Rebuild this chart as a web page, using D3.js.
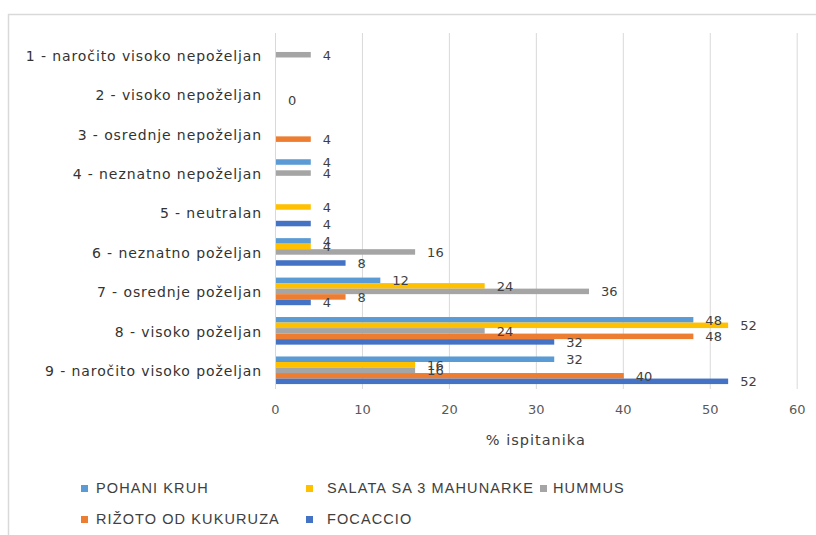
<!DOCTYPE html>
<html>
<head>
<meta charset="utf-8">
<script src="https://cdn.jsdelivr.net/npm/d3@7"></script>
<style>
  html, body { margin: 0; padding: 0; background: #fff; }
  svg { display: block; }
</style>
</head>
<body>
<svg id="chart" width="816" height="535"></svg>
<script>
// Rating scale (top to bottom)
const categories = [
  "1 - naročito visoko nepoželjan",
  "2 - visoko nepoželjan",
  "3 - osrednje nepoželjan",
  "4 - neznatno nepoželjan",
  "5 - neutralan",
  "6 -  neznatno poželjan",
  "7 - osrednje poželjan",
  "8 - visoko poželjan",
  "9 - naročito visoko poželjan"
];

const seriesNames = ["POHANI KRUH", "SALATA SA 3 MAHUNARKE", "HUMMUS", "RIŽOTO OD KUKURUZA", "FOCACCIO"];
const seriesColors = ["#5B9BD5", "#FFC000", "#A5A5A5", "#ED7D31", "#4472C4"];

// % of respondents per category; null = no answer recorded (no bar, no label)
const pohaniKruh   = [null, null, null, 4, null, 4, 12, 48, 32];
const salata       = [null, null, null, null, 4, 4, 24, 52, 16];
const hummus       = [4, null, null, 4, null, 16, 36, 24, 16];
const rizoto       = [null, 0, 4, null, null, null, 8, 48, 40];
const focaccio     = [null, null, null, null, 4, 8, 4, 32, 52];

const xTicks = [0, 10, 20, 30, 40, 50, 60];
const axisTitle = "% ispitanika";

const seriesValues = [pohaniKruh, salata, hummus, rizoto, focaccio];

const svg = d3.select("#chart");

// outer frame (top and left edges)
svg.append("line").attr("x1", 8).attr("x2", 816).attr("y1", 14.5).attr("y2", 14.5)
  .attr("stroke", "#d9d9d9").attr("stroke-width", 1.5);
svg.append("line").attr("x1", 8.5).attr("x2", 8.5).attr("y1", 14).attr("y2", 535)
  .attr("stroke", "#d9d9d9").attr("stroke-width", 1.5);

const x = d3.scaleLinear().domain([0, 60]).range([275, 796.7]);
const y = d3.scaleBand().domain(categories).range([35, 390]).paddingInner(0.3).paddingOuter(0.15);
const ySub = d3.scaleBand().domain(seriesNames).range([0, y.bandwidth()]);

// vertical gridlines
svg.append("g").selectAll("line").data(xTicks).join("line")
  .attr("x1", d => x(d) + 0.5).attr("x2", d => x(d) + 0.5)
  .attr("y1", 33).attr("y2", 389)
  .attr("stroke", "#d9d9d9").attr("stroke-width", 1);

// x axis tick labels
const xAxis = d3.axisBottom(x).tickValues(xTicks).tickSize(0).tickPadding(0);
const gx = svg.append("g").attr("transform", "translate(0,404)").call(xAxis);
gx.select(".domain").remove();
gx.selectAll("text")
  .attr("font-family", "DejaVu Sans, sans-serif").attr("font-size", 13)
  .attr("fill", "#595959").attr("dy", "0.75em");

svg.append("text").attr("x", (x(0) + x(60)) / 2).attr("y", 445)
  .attr("text-anchor", "middle")
  .attr("font-family", "DejaVu Sans, sans-serif").attr("font-size", 14.5)
  .attr("letter-spacing", 1)
  .attr("fill", "#404040").text(axisTitle);

// category labels
const yAxis = d3.axisLeft(y).tickSize(0).tickPadding(13);
const gy = svg.append("g").attr("transform", `translate(${x(0)},0)`).call(yAxis);
gy.select(".domain").remove();
gy.selectAll("text")
  .attr("font-family", "DejaVu Sans, sans-serif").attr("font-size", 14)
  .attr("letter-spacing", 0.9)
  .attr("fill", "#333").attr("dy", "0.42em");

// bars and value labels
const rows = [];
categories.forEach((c, i) => {
  seriesNames.forEach((s, j) => {
    const v = seriesValues[j][i];
    if (v !== null) rows.push({ c, s, v, color: seriesColors[j] });
  });
});

svg.append("g").selectAll("rect").data(rows).join("rect")
  .attr("x", x(0) + 1)
  .attr("y", d => y(d.c) + ySub(d.s))
  .attr("width", d => Math.max(0, x(d.v) - x(0)))
  .attr("height", ySub.bandwidth())
  .attr("fill", d => d.color);

svg.append("g").selectAll("text").data(rows).join("text")
  .attr("x", d => x(d.v) + 13)
  .attr("y", d => y(d.c) + ySub(d.s) + ySub.bandwidth() / 2 + 1.5)
  .attr("dominant-baseline", "middle")
  .attr("font-family", "DejaVu Sans, sans-serif").attr("font-size", 13)
  .attr("fill", "#404040")
  .text(d => d.v);

// legend: [marker x, text x, row y]
const legendPos = [[81, 96, 489], [306, 327, 489], [540, 553, 489], [81, 96, 520], [306, 327, 520]];
const lg = svg.append("g").selectAll("g").data(seriesNames).join("g");
lg.append("rect")
  .attr("x", (d, i) => legendPos[i][0]).attr("y", (d, i) => legendPos[i][2] - 4)
  .attr("width", 7).attr("height", 7)
  .attr("fill", (d, i) => seriesColors[i]);
lg.append("text")
  .attr("x", (d, i) => legendPos[i][1]).attr("y", (d, i) => legendPos[i][2])
  .attr("dominant-baseline", "middle")
  .attr("font-family", "Liberation Sans, sans-serif").attr("font-size", 14.5)
  .attr("letter-spacing", 1.1)
  .attr("fill", "#404040").text(d => d);
</script>
</body>
</html>
